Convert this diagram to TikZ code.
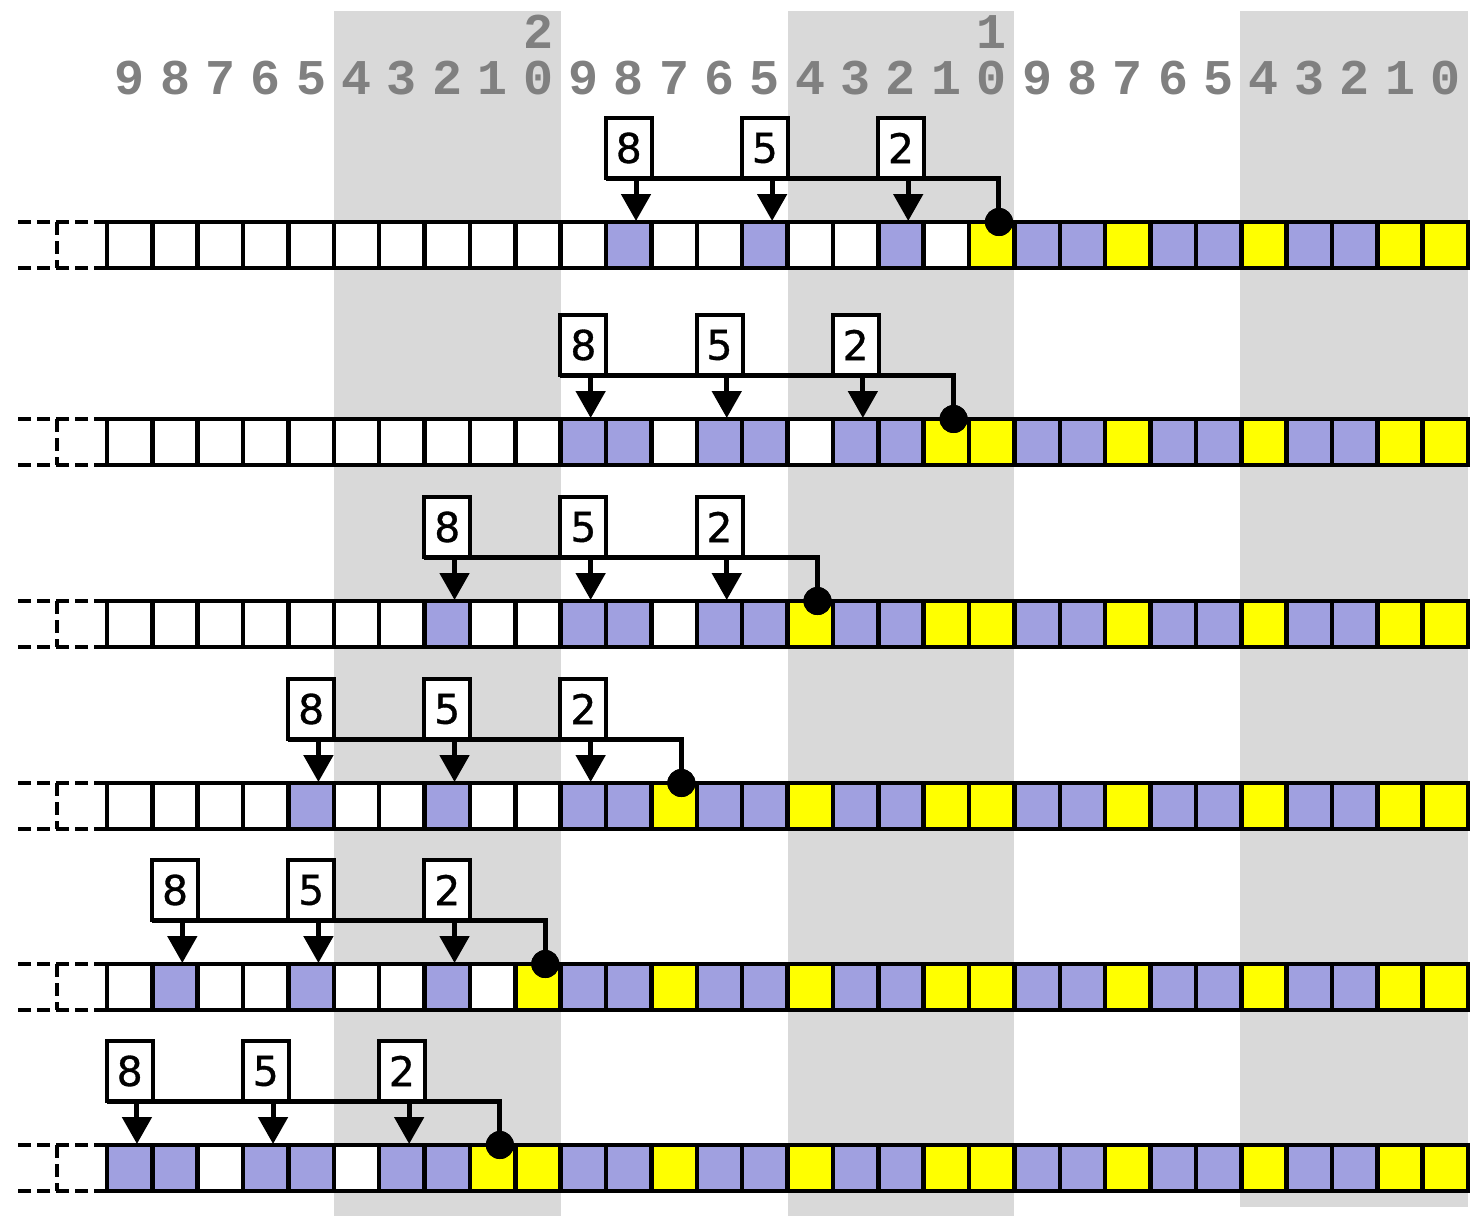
\documentclass[tikz,border=0pt]{standalone}
\usepackage{fontspec}
\usetikzlibrary{arrows.meta}
\newfontfamily\labfont{Liberation Mono}
\newfontfamily\boxfont[FakeBold=0.8]{DejaVu Sans}
\definecolor{cW}{HTML}{FFFFFF}
\definecolor{cL}{HTML}{A0A0E0}
\definecolor{cY}{HTML}{FFFF00}
\definecolor{bandgray}{HTML}{D9D9D9}
\definecolor{labgray}{HTML}{808080}
\tikzset{
  cell/.style={draw, line width=2.25pt, minimum width=22.685pt, minimum height=23pt, inner sep=0pt, outer sep=0pt},
  numbox/.style={draw, fill=white, line width=2pt, minimum width=23pt, minimum height=30pt, inner sep=0pt, outer sep=0pt, font=\boxfont\fontsize{20.5}{24}\selectfont},
  dotnode/.style={circle, fill=black, minimum size=14pt, inner sep=0pt, outer sep=0pt},
  conn/.style={line width=2.5pt},
  arr/.style={line width=2.5pt, -{Triangle[width=14.5pt,length=13.5pt]}},
  lab/.style={text=labgray, font=\labfont\bfseries\fontsize{25}{30}\selectfont, inner sep=0pt},
  dashline/.style={line width=2.4pt, dash pattern=on 6.5pt off 3pt}
}
\newcommand\rowcells[3]{%
  \foreach \c [count=\i from 0] in {#3} {
    \node[cell, fill=\c] (#1c\i) at ({107+(\i+0.5)*45.37},{#2+23}) {};
  }
  \coordinate (#1e1) at (16,#2);
  \coordinate (#1e2) at (16,#2+46);
  \coordinate (#1v1) at (57,#2);
  \coordinate (#1v2) at (57,#2+46);
  \draw[dashline] (#1c0.north west) -- (#1e1);
  \draw[dashline] (#1c0.south west) -- (#1e2);
  \draw[dashline] (#1v1) -- (#1v2);
}
\newcommand\marker[3]{%
  \pgfmathtruncatemacro\ca{#3}
  \pgfmathtruncatemacro\cb{#3+3}
  \pgfmathtruncatemacro\cc{#3+6}
  \node[numbox] (#1b8) at ({107+(#3+0.5)*45.37},{#2-74}) {8};
  \node[numbox] (#1b5) at ({107+(#3+3.5)*45.37},{#2-74}) {5};
  \node[numbox] (#1b2) at ({107+(#3+6.5)*45.37},{#2-74}) {2};
  \node[dotnode] (#1d) at ({107+(#3+8.66)*45.37},#2) {};
  \draw[conn] (#1b8.south west) -- (#1b8.south west -| #1d) -- (#1d.center);
  \node[numbox] at (#1b8) {8};
  \node[numbox] at (#1b5) {5};
  \node[numbox] at (#1b2) {2};
  \draw[arr] ([xshift=3.63pt]#1b8.south) -- ([xshift=3.63pt,yshift=0.5pt]#1c\ca.north);
  \draw[arr] ([xshift=3.63pt]#1b5.south) -- ([xshift=3.63pt,yshift=0.5pt]#1c\cb.north);
  \draw[arr] ([xshift=3.63pt]#1b2.south) -- ([xshift=3.63pt,yshift=0.5pt]#1c\cc.north);
  \node[dotnode] at (#1d) {};
}
\begin{document}
\begin{tikzpicture}[x=0.5pt,y=-0.5pt]
\useasboundingbox (0,0) rectangle (1472,1216);
% gray bands
\fill[bandgray] (333.8,11) rectangle (560.7,1216);
\fill[bandgray] (787.5,11) rectangle (1014.4,1216);
\fill[bandgray] (1240.2,11) rectangle (1468,1207);
% position labels
\foreach \i in {0,...,29} {
  \pgfmathtruncatemacro\d{9-mod(\i,10)}
  \node[lab] (lab\i) at ({107+(\i+0.5)*45.37},78) {\d};
}
\node[lab] (tensA) at ({107+9.5*45.37},32) {2};
\node[lab] (tensB) at ({107+19.5*45.37},32) {1};
% rows
\rowcells{ra}{222}{cW,cW,cW,cW,cW,cW,cW,cW,cW,cW,cW,cL,cW,cW,cL,cW,cW,cL,cW,cY,cL,cL,cY,cL,cL,cY,cL,cL,cY,cY}
\rowcells{rb}{419}{cW,cW,cW,cW,cW,cW,cW,cW,cW,cW,cL,cL,cW,cL,cL,cW,cL,cL,cY,cY,cL,cL,cY,cL,cL,cY,cL,cL,cY,cY}
\rowcells{rc}{601}{cW,cW,cW,cW,cW,cW,cW,cL,cW,cW,cL,cL,cW,cL,cL,cY,cL,cL,cY,cY,cL,cL,cY,cL,cL,cY,cL,cL,cY,cY}
\rowcells{rd}{783}{cW,cW,cW,cW,cL,cW,cW,cL,cW,cW,cL,cL,cY,cL,cL,cY,cL,cL,cY,cY,cL,cL,cY,cL,cL,cY,cL,cL,cY,cY}
\rowcells{re}{964}{cW,cL,cW,cW,cL,cW,cW,cL,cW,cY,cL,cL,cY,cL,cL,cY,cL,cL,cY,cY,cL,cL,cY,cL,cL,cY,cL,cL,cY,cY}
\rowcells{rf}{1145}{cL,cL,cW,cL,cL,cW,cL,cL,cY,cY,cL,cL,cY,cL,cL,cY,cL,cL,cY,cY,cL,cL,cY,cL,cL,cY,cL,cL,cY,cY}
% markers
\marker{ra}{222}{11}
\marker{rb}{419}{10}
\marker{rc}{601}{7}
\marker{rd}{783}{4}
\marker{re}{964}{1}
\marker{rf}{1145}{0}
\end{tikzpicture}
\end{document}
